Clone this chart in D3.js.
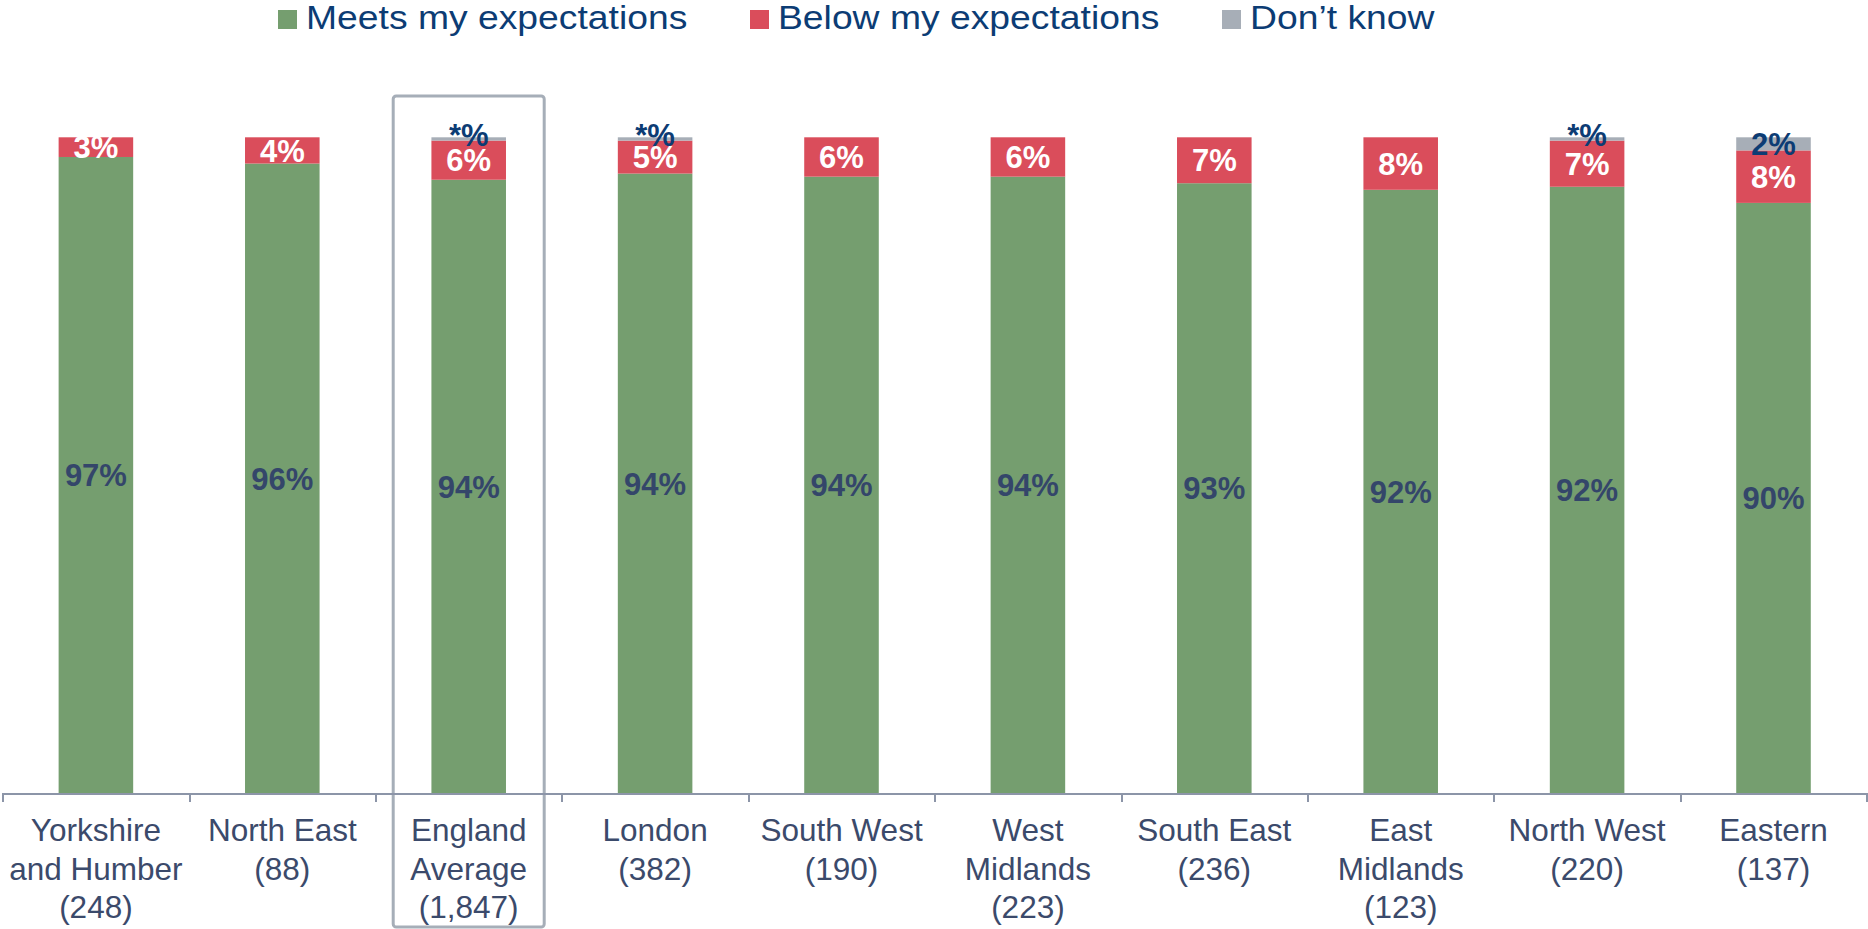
<!DOCTYPE html>
<html lang="en">
<head>
<meta charset="UTF-8">
<title>Expectations by region</title>
<script src="https://cdn.jsdelivr.net/npm/d3@7"></script>
<style>
body { margin: 0; background: #ffffff; }
text { font-family: "Liberation Sans", Arial, sans-serif; }
.axis path, .axis line { stroke: #8c95a8; stroke-width: 2; shape-rendering: crispEdges; }
</style>
</head>
<body>
<div id="chart"></div>
<script>
// data
const regions = ["Yorkshire\nand Humber", "North East", "England\nAverage", "London", "South West",
  "West\nMidlands", "South East", "East\nMidlands", "North West", "Eastern"];
const bases = [248, 88, 1847, 382, 190, 223, 236, 123, 220, 137];
const meets = [97, 96, 94, 94, 94, 94, 93, 92, 92, 90];
const below = [3, 4, 6, 5, 6, 6, 7, 8, 7, 8];
const dontKnow = [0, 0, 0.5, 0.5, 0, 0, 0, 0, 0.5, 2];
const highlight = "England\nAverage";

const seriesKeys = ["meets", "below", "dontKnow"];
const seriesNames = ["Meets my expectations", "Below my expectations", "Don\u2019t know"];
const colors = { meets: "#759e6f", below: "#da4d5b", dontKnow: "#a7aeb7" };
const labelColors = { meets: "#34466a", below: "#ffffff", dontKnow: "#0c3c74" };

const rows = regions.map((r, i) => ({ region: r, meets: meets[i], below: below[i], dontKnow: dontKnow[i] }));

const W = 1868, H = 929;
const svg = d3.select("#chart").append("svg").attr("width", W).attr("height", H);

// scales
const x = d3.scaleBand().domain(regions).range([2.7, 1866.7]).paddingInner(0.6).paddingOuter(0.3);
const y = d3.scaleLinear().domain([0, 1]).range([793.3, 137.3]);
const xEdge = d3.scaleLinear().domain([0, regions.length]).range([2.7, 1866.7]);

const stacked = d3.stack().keys(seriesKeys).offset(d3.stackOffsetExpand)(rows);

// highlight box around England Average
svg.append("rect")
  .attr("x", x(highlight) + x.bandwidth() / 2 - 75.5)
  .attr("y", 96)
  .attr("width", 151)
  .attr("height", 831)
  .attr("rx", 3)
  .attr("fill", "none")
  .attr("stroke", "#a6aeb8")
  .attr("stroke-width", 3);

// bars
svg.append("g").selectAll("g")
  .data(stacked)
  .join("g")
  .attr("fill", d => colors[d.key])
  .selectAll("rect")
  .data(d => d)
  .join("rect")
  .attr("x", d => x(d.data.region))
  .attr("width", x.bandwidth())
  .attr("y", d => y(d[1]))
  .attr("height", d => y(d[0]) - y(d[1]));

// axis with ticks between categories
svg.append("g")
  .attr("class", "axis")
  .attr("transform", "translate(0,793.3)")
  .call(d3.axisBottom(xEdge).tickValues(d3.range(0, regions.length + 1)).tickFormat("").tickSize(9).tickSizeOuter(9));

// category labels
const fmt = d3.format(",");
const catLabels = svg.append("g").selectAll("text")
  .data(regions)
  .join("text")
  .attr("text-anchor", "middle")
  .attr("font-size", 31.5)
  .attr("fill", "#3b4a6b")
  .attr("transform", d => `translate(${x(d) + x.bandwidth() / 2},841)`);
catLabels.each(function(d, i) {
  const lines = d.split("\n").concat(`(${fmt(bases[i])})`);
  d3.select(this).selectAll("tspan")
    .data(lines)
    .join("tspan")
    .attr("x", 0)
    .attr("y", (l, j) => j * 38.5)
    .text(l => l);
});

// value labels
stacked.forEach(s => {
  svg.append("g").selectAll("text")
    .data(s.filter(d => d.data[s.key] > 0))
    .join("text")
    .attr("x", d => x(d.data.region) + x.bandwidth() / 2)
    .attr("y", d => (y(d[0]) + y(d[1])) / 2)
    .attr("dy", d => d.data[s.key] < 1 ? "0.22em" : "0.36em")
    .attr("text-anchor", "middle")
    .attr("font-size", 31)
    .attr("font-weight", "bold")
    .attr("fill", labelColors[s.key])
    .text(d => d.data[s.key] < 1 ? "*%" : d.data[s.key] + "%");
});

// legend
const legendX = [278, 750, 1222];
const legend = svg.append("g").selectAll("g")
  .data(seriesKeys)
  .join("g")
  .attr("transform", (d, i) => `translate(${legendX[i]},0)`);
legend.append("rect")
  .attr("x", 0).attr("y", 10)
  .attr("width", 19).attr("height", 19)
  .attr("fill", d => colors[d]);
legend.append("text")
  .attr("transform", "translate(28,29.3) scale(1.13,1)")
  .attr("font-size", 33)
  .attr("fill", "#0c3c74")
  .text((d, i) => seriesNames[i]);
</script>
</body>
</html>
